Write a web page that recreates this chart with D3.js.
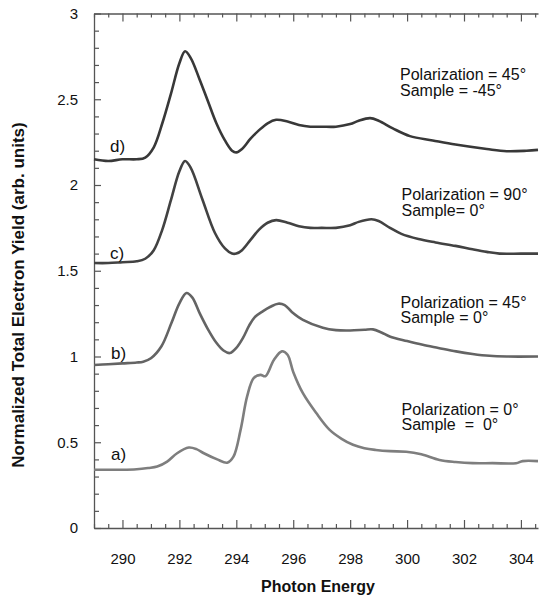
<!DOCTYPE html>
<html>
<head>
<meta charset="utf-8">
<script src="https://cdn.jsdelivr.net/npm/d3@7"></script>
<style>
  html, body { margin: 0; padding: 0; background: #fff; }
  svg { display: block; }
  text { font-family: "Liberation Sans", Arial, Helvetica, sans-serif; fill: #111; }
</style>
</head>
<body>
<svg id="chart" width="539" height="596"></svg>
<script>
// ---------- data ----------
const energyD = [289, 289.5, 290, 290.5, 290.8, 291.1, 291.4, 291.7, 292.0, 292.2, 292.4, 292.7, 293.0, 293.3, 293.6, 293.85, 294.0, 294.2, 294.5, 294.8, 295.1, 295.4, 295.8, 296.2, 296.6, 297.0, 297.5, 298.0, 298.3, 298.7, 299.0, 299.5, 300.1, 300.9, 301.7, 302.8, 303.5, 304.2, 304.6];
const yieldD  = [2.15, 2.14, 2.15, 2.15, 2.16, 2.22, 2.36, 2.53, 2.71, 2.78, 2.74, 2.62, 2.49, 2.36, 2.26, 2.20, 2.19, 2.21, 2.27, 2.32, 2.36, 2.38, 2.37, 2.35, 2.34, 2.34, 2.34, 2.355, 2.375, 2.39, 2.375, 2.33, 2.285, 2.26, 2.236, 2.21, 2.197, 2.20, 2.205];

const energyC = [289, 289.5, 290, 290.5, 290.8, 291.1, 291.4, 291.7, 292.0, 292.2, 292.4, 292.8, 293.25, 293.6, 293.85, 294.0, 294.2, 294.5, 294.8, 295.1, 295.4, 295.8, 296.2, 296.6, 297.0, 297.5, 298.0, 298.3, 298.75, 299.0, 299.4, 299.8, 300.4, 301.0, 301.7, 302.3, 302.8, 303.25, 304.0, 304.6];
const yieldC  = [1.545, 1.545, 1.55, 1.555, 1.57, 1.62, 1.74, 1.91, 2.08, 2.14, 2.10, 1.92, 1.72, 1.63, 1.60, 1.60, 1.62, 1.68, 1.74, 1.78, 1.795, 1.78, 1.76, 1.75, 1.75, 1.75, 1.765, 1.785, 1.80, 1.79, 1.75, 1.715, 1.685, 1.665, 1.645, 1.625, 1.61, 1.60, 1.60, 1.60];

const energyB = [289, 289.5, 290, 290.5, 290.73, 291.0, 291.37, 291.72, 292.0, 292.25, 292.45, 292.72, 293.0, 293.3, 293.55, 293.77, 294.0, 294.24, 294.45, 294.65, 294.94, 295.2, 295.47, 295.7, 295.95, 296.34, 297.04, 297.5, 298.0, 298.5, 298.8, 299.1, 299.39, 300.0, 300.55, 301.1, 301.72, 302.3, 302.9, 303.5, 304.6];
const yieldB  = [0.95, 0.955, 0.96, 0.965, 0.97, 0.99, 1.06, 1.195, 1.31, 1.37, 1.345, 1.25, 1.16, 1.08, 1.035, 1.02, 1.05, 1.11, 1.18, 1.23, 1.265, 1.29, 1.308, 1.30, 1.26, 1.214, 1.168, 1.154, 1.152, 1.156, 1.158, 1.14, 1.117, 1.09, 1.068, 1.05, 1.03, 1.015, 1.004, 1.0, 1.0];

const energyA = [289, 289.5, 290, 290.5, 290.9, 291.22, 291.57, 291.92, 292.33, 292.6, 292.86, 293.33, 293.68, 293.9, 294.15, 294.38, 294.61, 294.85, 295.02, 295.32, 295.6, 295.8, 296.0, 296.34, 296.81, 297.28, 297.7, 298.1, 298.5, 298.9, 299.4, 299.97, 300.5, 301.14, 301.7, 302.3, 303.0, 303.83, 304.06, 304.6];
const yieldA  = [0.34, 0.34, 0.34, 0.343, 0.35, 0.358, 0.387, 0.436, 0.469, 0.46, 0.436, 0.40, 0.381, 0.416, 0.572, 0.767, 0.874, 0.893, 0.885, 0.98, 1.03, 1.01, 0.91, 0.786, 0.67, 0.572, 0.52, 0.485, 0.465, 0.455, 0.448, 0.445, 0.43, 0.397, 0.385, 0.378, 0.378, 0.378, 0.39, 0.39];

const curveLabels = ["d)", "c)", "b)", "a)"];
const annotations = [
  ["Polarization = 45°", "Sample = -45°"],
  ["Polarization = 90°", "Sample= 0°"],
  ["Polarization = 45°", "Sample = 0°"],
  ["Polarization = 0°",  "Sample  =  0°"]
];
const xMajorTicks = [290, 292, 294, 296, 298, 300, 302, 304];
const yMajorTicks = [0, 0.5, 1, 1.5, 2, 2.5, 3];
const xTitle = "Photon Energy";
const yTitle = "Normalized Total Electron Yield (arb. units)";

// ---------- layout ----------
const plotLeft = 94, plotRight = 538, plotTop = 13.5, plotBottom = 528;
const svg = d3.select("#chart");

const x = d3.scaleLinear().domain([289, 304.6]).range([plotLeft, plotRight]);
const y = d3.scaleLinear().domain([0, 3]).range([plotBottom, plotTop]);

const xMinor = d3.range(289, 304.6, 0.5).filter(v => Math.abs(v / 2 - Math.round(v / 2)) > 1e-6);
const yMinor = d3.range(0, 3.001, 0.1).map(v => +v.toFixed(2)).filter(v => Math.abs(v * 2 - Math.round(v * 2)) > 1e-6);

const axisColor = "#555";

function styleAxis(g) {
  g.select(".domain").attr("stroke", axisColor).attr("stroke-width", 1.3);
  g.selectAll(".tick line").attr("stroke", axisColor).attr("stroke-width", 1.2);
  g.selectAll(".tick text").attr("fill", "#111").style("font-size", "15px")
    .style("font-family", '"Liberation Sans", Arial, Helvetica, sans-serif');
}

// bottom axis
const gx = svg.append("g").attr("transform", `translate(0,${plotBottom})`)
  .call(d3.axisBottom(x).tickValues(xMajorTicks).tickSizeInner(-8).tickSizeOuter(0).tickPadding(25).tickFormat(d3.format("d")));
styleAxis(gx);
const gxm = svg.append("g").attr("transform", `translate(0,${plotBottom})`)
  .call(d3.axisBottom(x).tickValues(xMinor).tickSizeInner(-4).tickSizeOuter(0).tickFormat(""));
styleAxis(gxm); gxm.select(".domain").remove();

// top axis
const gt = svg.append("g").attr("transform", `translate(0,${plotTop})`)
  .call(d3.axisTop(x).tickValues(xMajorTicks).tickSizeInner(-8).tickSizeOuter(0).tickFormat(""));
styleAxis(gt);
const gtm = svg.append("g").attr("transform", `translate(0,${plotTop})`)
  .call(d3.axisTop(x).tickValues(xMinor).tickSizeInner(-4).tickSizeOuter(0).tickFormat(""));
styleAxis(gtm); gtm.select(".domain").remove();

// left axis
const gy = svg.append("g").attr("transform", `translate(${plotLeft},0)`)
  .call(d3.axisLeft(y).tickValues(yMajorTicks).tickSizeInner(-7).tickSizeOuter(0).tickPadding(16).tickFormat(d => d3.format("")(d)));
styleAxis(gy);
const gym = svg.append("g").attr("transform", `translate(${plotLeft},0)`)
  .call(d3.axisLeft(y).tickValues(yMinor).tickSizeInner(-5).tickSizeOuter(0).tickFormat(""));
styleAxis(gym); gym.select(".domain").remove();

// titles
svg.append("text").attr("x", 318).attr("y", 592).attr("text-anchor", "middle")
  .style("font-size", "16px").style("font-weight", "bold").text(xTitle);
svg.append("text").attr("transform", "translate(24,295) rotate(-90)").attr("text-anchor", "middle")
  .style("font-size", "17px").style("font-weight", "bold").text(yTitle);

// curves
const series = [
  { e: energyD, v: yieldD, color: "#383838" },
  { e: energyC, v: yieldC, color: "#424242" },
  { e: energyB, v: yieldB, color: "#646464" },
  { e: energyA, v: yieldA, color: "#7e7e7e" }
];
const line = d3.line().x(d => x(d[0])).y(d => y(d[1])).curve(d3.curveCatmullRom.alpha(0.5));
series.forEach(s => {
  svg.append("path")
    .datum(d3.zip(s.e, s.v))
    .attr("fill", "none")
    .attr("stroke", s.color)
    .attr("stroke-width", 2.6)
    .attr("stroke-linejoin", "round")
    .attr("d", line);
});

// curve labels
const labelPos = [[110, 152], [110, 259], [111, 359], [111, 460]];
curveLabels.forEach((t, i) => {
  svg.append("text").attr("x", labelPos[i][0]).attr("y", labelPos[i][1])
    .style("font-size", "17px").text(t);
});

// annotations
const annPos = [[400, 80], [401.5, 200], [400.5, 307.5], [401.5, 414.5]];
annotations.forEach((lines, i) => {
  lines.forEach((t, j) => {
    svg.append("text").attr("x", annPos[i][0]).attr("y", annPos[i][1] + j * 15.5)
      .attr("xml:space", "preserve").style("white-space", "pre")
      .style("font-size", "16px").text(t);
  });
});
</script>
</body>
</html>
